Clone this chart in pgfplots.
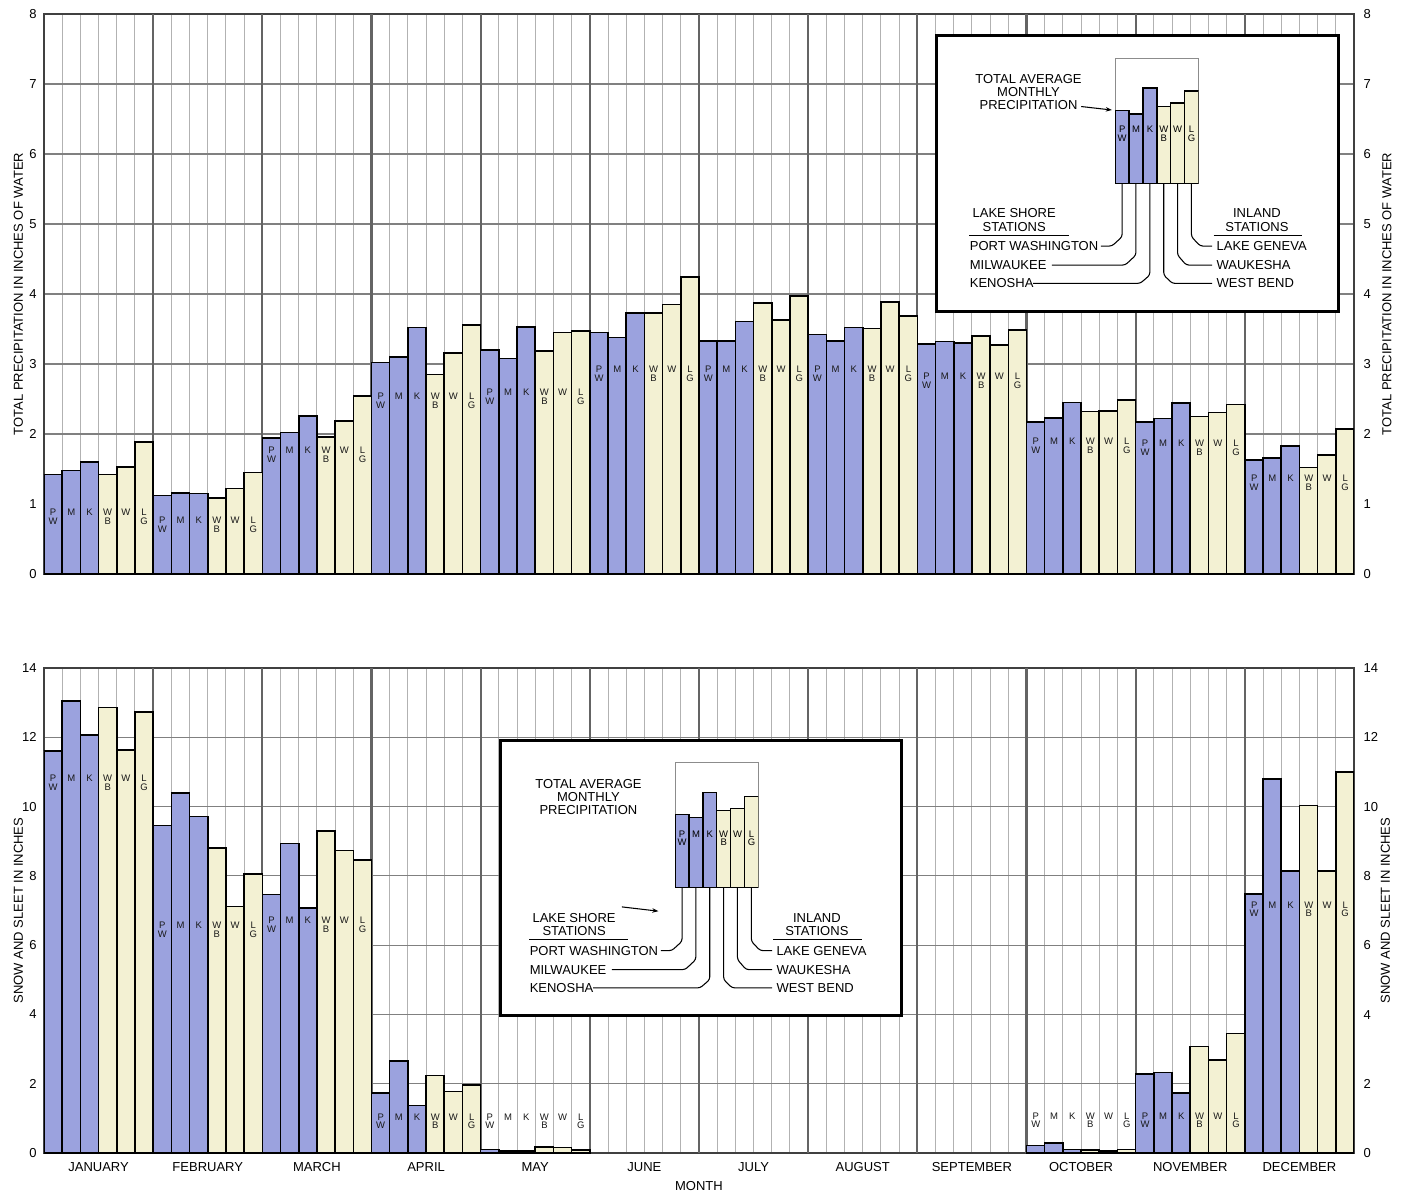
\documentclass[border=0pt]{standalone}
\usepackage{pgfplots}
\pgfplotsset{compat=1.18}
\usepackage{fontspec}
\setmainfont{Liberation Sans}
\usetikzlibrary{arrows.meta}
\definecolor{bblue}{RGB}{155,162,222}
\definecolor{bcream}{RGB}{243,241,211}
\definecolor{gmonth}{RGB}{100,100,100}
\definecolor{gminor}{RGB}{178,178,178}
\newcommand\fs{\fontsize{7.4}{7.5}\selectfont}
\newcommand\fl{\fontsize{5.4}{4.9}\selectfont}

\pgfplotsset{
  mainax/.style={
    scale only axis, width=26.2cm,
    xmin=-0.5, xmax=71.5, ymin=0,
    ybar, bar width=1,
    major tick length=0pt, minor tick length=0pt,
    xtick={2.5,8.5,...,68.5},
    minor xtick={-0.5,0.5,...,71.5},
    xminorgrids=true, xmajorgrids=false,
    minor x grid style={gminor, line width=0.55pt},
    extra x ticks={5.5,11.5,...,65.5},
    extra x tick labels={},
    extra x tick style={grid=major, major grid style={gmonth, line width=1.2pt}},
    ymajorgrids=true,
    major y grid style={black!50, line width=0.6pt},
    axis line style={black!75, line width=1pt},
    ticklabel style={font=\fs},
    /pgf/number format/assume math mode=true,
    yticklabel style={inner sep=0pt, xshift=-4pt},
    xticklabel style={inner sep=0pt, yshift=-5.4pt},
    ylabel style={font=\fs, at={(axis description cs:0,0.5)}, anchor=south, inner sep=0pt, yshift=11.7pt},
    every axis plot/.append style={draw=black, line width=0.9pt, bar shift=0pt},
  },
  miniax/.style={
    scale only axis, width=1.666cm, height=2.5cm,
    xmin=-0.5, xmax=5.5, ymin=0, ymax=1,
    ybar, bar width=1,
    axis line style={black!45, line width=0.6pt},
    xtick=\empty, ytick=\empty,
    minor xtick={0.5,1.5,...,4.5}, xminorgrids=true,
    minor x grid style={gminor, line width=0.5pt}, minor tick length=0pt,
    every axis plot/.append style={draw=black, line width=0.75pt, bar shift=0pt},
  }
}

% legend drawing (pixel units, relative to mini chart bottom-left corner)
\newcommand\insetdeco[2]{%
\begin{scope}[shift={(#1*0.02cm,-#2*0.02cm)}, x=0.02cm, y=-0.02cm, font=\fs]
  \node[align=center, inner sep=0pt] at (-86.7,-91) {TOTAL AVERAGE\\MONTHLY\\PRECIPITATION};
  \node[align=center, inner sep=0pt] at (-101,36.7) {LAKE SHORE\\STATIONS};
  \node[align=center, inner sep=0pt] at (141.7,36.7) {INLAND\\STATIONS};
  \draw[line width=0.6pt] (-145.7,51.7) -- (-46.7,51.7);
  \draw[line width=0.6pt] (98.3,51.7) -- (186.7,51.7);
  \node[anchor=west, inner sep=0pt] at (-145.7,62.7) {PORT WASHINGTON};
  \node[anchor=west, inner sep=0pt] at (-145.7,81.7) {MILWAUKEE};
  \node[anchor=west, inner sep=0pt] at (-145.7,100) {KENOSHA};
  \node[anchor=west, inner sep=0pt] at (101,62.7) {LAKE GENEVA};
  \node[anchor=west, inner sep=0pt] at (101,81.7) {WAUKESHA};
  \node[anchor=west, inner sep=0pt] at (101,100) {WEST BEND};
  \begin{scope}[line width=0.6pt, rounded corners=1.5pt]
    \draw (6.9,0) -- (6.9,53.4) -- (-3.3,62.7) -- (-14.3,62.7);
    \draw (20.7,0) -- (20.7,71.7) -- (10,81.7) -- (-63.3,81.7);
    \draw (34.6,0) -- (34.6,91.7) -- (25,100) -- (-82,100);
    \draw (48.5,0) -- (48.5,91.7) -- (57,100) -- (97,100);
    \draw (62.3,0) -- (62.3,71.7) -- (71,81.7) -- (97,81.7);
    \draw (76.2,0) -- (76.2,53.4) -- (85,62.7) -- (97,62.7);
  \end{scope}
\end{scope}}

\newcommand\minilabels{%
  \node[anchor=north, align=center, inner sep=0pt, font=\fl] at (axis cs:0,0.46) {P\\W};
  \node[anchor=north, align=center, inner sep=0pt, font=\fl] at (axis cs:1,0.46) {M};
  \node[anchor=north, align=center, inner sep=0pt, font=\fl] at (axis cs:2,0.46) {K};
  \node[anchor=north, align=center, inner sep=0pt, font=\fl] at (axis cs:3,0.46) {W\\B};
  \node[anchor=north, align=center, inner sep=0pt, font=\fl] at (axis cs:4,0.46) {W};
  \node[anchor=north, align=center, inner sep=0pt, font=\fl] at (axis cs:5,0.46) {L\\G};
}

\begin{document}
\begin{tikzpicture}

% ---------------- TOP: total precipitation ----------------
\begin{axis}[mainax, name=top, at={(0.88cm,-11.48cm)}, anchor=south west,
  height=11.2cm, ymax=8, ytick={0,1,...,8}, xticklabels={},
  ylabel={TOTAL PRECIPITATION IN INCHES OF WATER}]
\addplot[fill=bblue] coordinates {
 (0,1.42) (1,1.48) (2,1.60)
 (6,1.12) (7,1.16) (8,1.15)
 (12,1.94) (13,2.02) (14,2.26)
 (18,3.02) (19,3.10) (20,3.52)
 (24,3.20) (25,3.08) (26,3.53)
 (30,3.45) (31,3.38) (32,3.73)
 (36,3.33) (37,3.33) (38,3.61)
 (42,3.42) (43,3.33) (44,3.52)
 (48,3.29) (49,3.32) (50,3.30)
 (54,2.17) (55,2.23) (56,2.45)
 (60,2.17) (61,2.22) (62,2.44)
 (66,1.63) (67,1.66) (68,1.83)};
\addplot[fill=bcream] coordinates {
 (3,1.42) (4,1.53) (5,1.89)
 (9,1.09) (10,1.22) (11,1.45)
 (15,1.96) (16,2.19) (17,2.54)
 (21,2.85) (22,3.16) (23,3.56)
 (27,3.19) (28,3.45) (29,3.47)
 (33,3.73) (34,3.85) (35,4.24)
 (39,3.87) (40,3.63) (41,3.97)
 (45,3.51) (46,3.89) (47,3.69)
 (51,3.40) (52,3.27) (53,3.49)
 (57,2.32) (58,2.33) (59,2.49)
 (63,2.25) (64,2.31) (65,2.42)
 (69,1.52) (70,1.70) (71,2.07)};
\end{axis}

% ---------------- BOTTOM: snow and sleet ----------------
\begin{axis}[mainax, name=bot, at={(0.88cm,-23.06cm)}, anchor=south west,
  height=9.7cm, ymax=14, ytick={0,2,...,14},
  xticklabels={JANUARY,FEBRUARY,MARCH,APRIL,MAY,JUNE,JULY,AUGUST,SEPTEMBER,OCTOBER,NOVEMBER,DECEMBER},
  xlabel={MONTH},
  xlabel style={font=\fs, at={(axis description cs:0.5,0)}, anchor=north, inner sep=0pt, yshift=-16.2pt},
  ylabel={SNOW AND SLEET IN INCHES}]
\addplot[fill=bblue] coordinates {
 (0,11.61) (1,13.05) (2,12.07)
 (6,9.46) (7,10.39) (8,9.71)
 (12,7.46) (13,8.94) (14,7.08)
 (18,1.73) (19,2.66) (20,1.37)
 (24,0.10) (25,0.06) (26,0.05)
 (54,0.22) (55,0.29) (56,0.10)
 (60,2.28) (61,2.33) (62,1.74)
 (66,7.48) (67,10.80) (68,8.14)};
\addplot[fill=bcream] coordinates {
 (3,12.86) (4,11.63) (5,12.73)
 (9,8.80) (10,7.11) (11,8.06)
 (15,9.29) (16,8.73) (17,8.45)
 (21,2.24) (22,1.77) (23,1.97)
 (27,0.18) (28,0.16) (29,0.09)
 (57,0.09) (58,0.06) (59,0.10)
 (63,3.07) (64,2.68) (65,3.45)
 (69,10.03) (70,8.14) (71,10.99)};
\end{axis}

% ---------------- station letters, right-hand scales (pixel units) ----------------
\begin{scope}[x=0.02cm, y=-0.02cm]
  \foreach \m/\yy in {0/508.5,1/517,2/447,3/392.5,4/389,5/366,6/366,7/366,8/373,9/437.5,10/439.5,11/474.5,
                      12/774.5,13/921.5,14/916.5,15/1113,16/1113,21/1112,22/1112,23/901} {
    \foreach \s/\t in {0/{P\\W},1/{M},2/{K},3/{W\\B},4/{W},5/{L\\G}} {
      \pgfmathsetmacro{\xx}{44+(6*mod(\m,12)+\s+0.5)*18.19444}
      \node[anchor=north, align=center, inner sep=0pt, font=\fl, text=black!90] at (\xx,\yy) {\t};
    }
  }
  \foreach \k in {0,...,8} {
    \node[anchor=west, inner sep=0pt, font=\fs] at (1363,574-70*\k) {\k};
  }
  \foreach \k in {0,2,...,14} {
    \node[anchor=west, inner sep=0pt, font=\fs] at (1363,1153-34.643*\k) {\k};
  }
  \node[rotate=90, inner sep=0pt, font=\fs] at (1386.7,294) {TOTAL PRECIPITATION IN INCHES OF WATER};
  \node[rotate=90, inner sep=0pt, font=\fs] at (1385,910.5) {SNOW AND SLEET IN INCHES};

  % inset boxes
  \filldraw[fill=white, draw=black, line width=1.7pt] (936,35) rectangle (1338,311.7);
  \filldraw[fill=white, draw=black, line width=1.7pt] (500,740) rectangle (901,1015);
\end{scope}

\insetdeco{1115}{183.3}
\insetdeco{675}{887.7}
\begin{scope}[x=0.02cm, y=-0.02cm]
  \draw[-{Stealth[length=3.5pt,width=2.5pt]}, line width=0.6pt] (1081,106.5) -- (1111.7,110);
  \draw[-{Stealth[length=3.5pt,width=2.5pt]}, line width=0.6pt] (675-53.3,887.7+19) -- (675-16.7,887.7+23.3);
\end{scope}

% mini charts in the keys
\begin{axis}[miniax, at={(1115*0.02cm,-183.3*0.02cm)}, anchor=south west]
\addplot[fill=bblue] coordinates {(0,0.584) (1,0.555) (2,0.764)};
\addplot[fill=bcream] coordinates {(3,0.616) (4,0.643) (5,0.740)};
\minilabels
\end{axis}
\begin{axis}[miniax, at={(675*0.02cm,-887.7*0.02cm)}, anchor=south west]
\addplot[fill=bblue] coordinates {(0,0.589) (1,0.561) (2,0.764)};
\addplot[fill=bcream] coordinates {(3,0.617) (4,0.636) (5,0.733)};
\minilabels
\end{axis}

\pgfresetboundingbox
\path[use as bounding box] (0,0) rectangle (28.1cm,-23.92cm);
\end{tikzpicture}
\end{document}
